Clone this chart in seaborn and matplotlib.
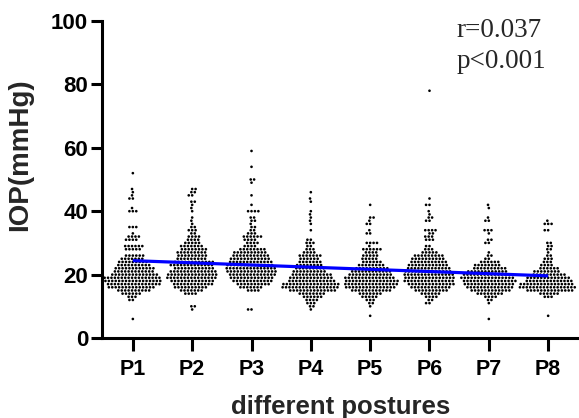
import matplotlib
matplotlib.use("Agg")
import matplotlib.pyplot as plt
import numpy as np
import pandas as pd
import seaborn as sns

# ------------------------------
# Data: IOP value (mmHg) -> number of dots in that row

POSTURES = ["P1", "P2", "P3", "P4", "P5", "P6", "P7", "P8"]

P1_IOP = [52, 47, 46, 45, 44, 41, 40, 35, 33, 32, 31, 29, 28, 26, 25, 24, 23, 22, 21, 20, 19, 18, 17, 16, 15, 14, 13, 12, 6]
P1_N = [1, 1, 1, 1, 2, 1, 3, 3, 1, 4, 4, 6, 5, 6, 7, 9, 10, 12, 12, 14, 17, 17, 16, 14, 10, 6, 3, 2, 1]

P2_IOP = [47, 46, 45, 43, 42, 41, 40, 38, 37, 36, 35, 34, 33, 32, 31, 30, 29, 28, 27, 26, 25, 24, 23, 22, 21, 20, 19, 18, 17, 16, 15, 14, 10, 9]
P2_N = [2, 2, 2, 2, 1, 1, 1, 1, 1, 1, 2, 3, 2, 4, 4, 5, 7, 8, 9, 9, 9, 12, 13, 12, 14, 15, 15, 13, 12, 10, 7, 4, 2, 1]

P3_IOP = [59, 54, 50, 49, 45, 42, 40, 38, 37, 36, 35, 34, 33, 32, 31, 30, 29, 28, 27, 26, 25, 24, 23, 22, 21, 20, 19, 18, 17, 16, 15, 9]
P3_N = [1, 1, 2, 1, 1, 1, 4, 2, 2, 1, 2, 2, 3, 6, 4, 4, 4, 8, 10, 11, 12, 13, 14, 15, 15, 14, 13, 12, 10, 7, 4, 2]

P4_IOP = [46, 44, 43, 40, 39, 38, 37, 36, 34, 31, 30, 29, 28, 27, 26, 25, 24, 23, 22, 21, 20, 19, 18, 17, 16, 15, 14, 13, 12, 11, 10, 9]
P4_N = [1, 1, 1, 1, 1, 1, 1, 1, 1, 2, 3, 2, 3, 4, 7, 6, 7, 8, 9, 10, 12, 13, 14, 17, 17, 14, 8, 6, 4, 3, 2, 1]

P5_IOP = [42, 38, 37, 36, 34, 33, 30, 29, 28, 27, 26, 25, 24, 23, 22, 21, 20, 19, 18, 17, 16, 15, 14, 13, 12, 11, 10, 7]
P5_N = [1, 2, 1, 2, 1, 2, 4, 1, 6, 4, 5, 5, 6, 8, 10, 12, 13, 15, 16, 16, 15, 12, 7, 5, 3, 2, 1, 1]

P6_IOP = [78, 44, 42, 40, 39, 38, 37, 34, 33, 32, 31, 29, 28, 27, 26, 25, 24, 23, 22, 21, 20, 19, 18, 17, 16, 15, 14, 13, 12, 11]
P6_N = [1, 1, 2, 1, 1, 2, 2, 4, 2, 3, 3, 2, 3, 5, 9, 10, 11, 12, 13, 14, 15, 15, 15, 14, 12, 10, 6, 4, 2, 2]

P7_IOP = [42, 41, 38, 37, 34, 33, 31, 30, 27, 26, 25, 24, 23, 22, 21, 20, 19, 18, 17, 16, 15, 14, 13, 12, 11, 6]
P7_N = [1, 1, 1, 2, 3, 1, 2, 2, 1, 2, 2, 6, 8, 10, 12, 15, 16, 16, 15, 14, 12, 8, 4, 2, 1, 1]

P8_IOP = [37, 36, 34, 30, 29, 28, 27, 26, 25, 24, 23, 22, 21, 20, 19, 18, 17, 16, 15, 14, 13, 7]
P8_N = [1, 3, 2, 2, 2, 2, 1, 2, 3, 3, 4, 6, 8, 10, 13, 14, 16, 17, 14, 6, 3, 1]

# fitted line, read at P1 and P8
TREND_X = ["P1", "P8"]
TREND_Y = [24.4, 19.6]

STATS_TEXT = ["r=0.037", "p<0.001"]

# ------------------------------

sns.set_style("ticks")
plt.rcParams["font.family"] = ["Liberation Sans", "DejaVu Sans"]
plt.rcParams["font.weight"] = "bold"

DPI = 100
FIGSIZE = (579 / DPI, 418 / DPI)

# each swarm is drawn on its own, so seaborn gives it 0.8 data units of room;
# spacing the postures 0.8 apart lets a swarm use a full slot like Prism does
SPACING = 0.8


def build_df():
    rows = {
        "P1": (P1_IOP, P1_N), "P2": (P2_IOP, P2_N), "P3": (P3_IOP, P3_N),
        "P4": (P4_IOP, P4_N), "P5": (P5_IOP, P5_N), "P6": (P6_IOP, P6_N),
        "P7": (P7_IOP, P7_N), "P8": (P8_IOP, P8_N),
    }
    frames = []
    for i, (posture, (iop, n)) in enumerate(rows.items()):
        frames.append(pd.DataFrame({
            "posture": posture,
            "pos": i * SPACING,
            "iop": np.repeat(iop, n),
        }))
    return pd.concat(frames, ignore_index=True)


def main():
    df = build_df()

    fig = plt.figure(figsize=FIGSIZE, dpi=DPI)
    ax = fig.add_axes([102 / 579, 80 / 418, 477 / 579, 317 / 418])

    # no visible edge, but the linewidth still counts toward the swarm spacing,
    # which leaves a small white gap between neighbouring dots
    for posture in POSTURES:
        sub = df[df["posture"] == posture]
        sns.swarmplot(data=sub, x="pos", y="iop", native_scale=True, orient="x",
                      color="black", size=1.9, edgecolor="none", linewidth=0.45,
                      warn_thresh=1.0, ax=ax)

    # regression line on top of the dots
    trend_pos = [POSTURES.index(p) * SPACING for p in TREND_X]
    ax.plot(trend_pos, TREND_Y, color="#0000ff", linewidth=2.3, zorder=10,
            solid_capstyle="butt")

    ax.set_xticks(np.arange(len(POSTURES)) * SPACING, POSTURES)
    ax.set_xlim(-0.52 * SPACING, 7.52 * SPACING)
    ax.set_ylim(0, 100)
    ax.set_yticks([0, 20, 40, 60, 80, 100])

    sns.despine(ax=ax)
    for side in ["left", "bottom"]:
        ax.spines[side].set_linewidth(2.2)
        ax.spines[side].set_color("black")
    ax.tick_params(axis="y", length=8, width=2.2, labelsize=16, pad=2, colors="black")
    ax.tick_params(axis="x", length=9, width=2.2, labelsize=15.5, pad=6, colors="black")

    ax.set_xlabel("different postures", fontsize=18.5, fontweight="bold", labelpad=11)
    ax.set_ylabel("IOP(mmHg)", fontsize=20, fontweight="bold")
    ax.yaxis.set_label_coords(-0.145, 0.577)

    for i, txt in enumerate(STATS_TEXT):
        ax.text(0.744, 0.950 - i * 0.098, txt, transform=ax.transAxes,
                fontsize=19.5, fontweight="normal", va="baseline", ha="left",
                family=["Liberation Serif", "DejaVu Serif"])

    fig.savefig("out.png", dpi=DPI)
    plt.close(fig)


if __name__ == "__main__":
    main()
